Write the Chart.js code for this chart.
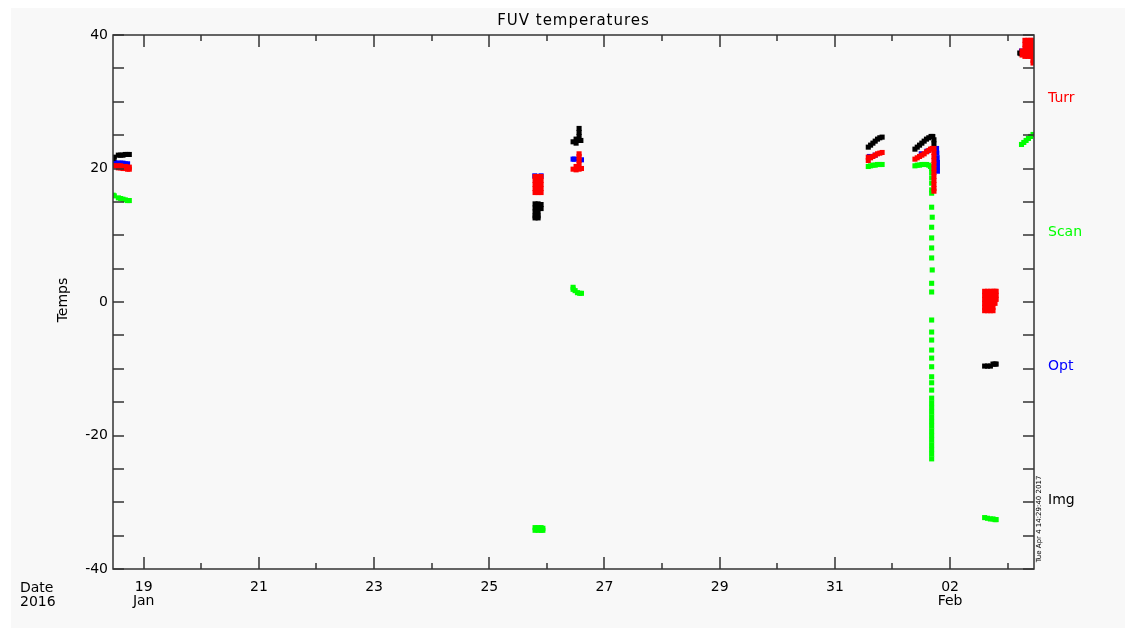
<!DOCTYPE html>
<html>
<head>
<meta charset="utf-8">
<title>FUV temperatures</title>
<script src="https://cdn.jsdelivr.net/npm/chart.js@4/dist/chart.umd.min.js"></script>
<style>
html, body { margin: 0; padding: 0; background: #fff; }
body { width: 1125px; height: 634px; position: relative; overflow: hidden; font-family: "DejaVu Sans", sans-serif; }
#bg { position: absolute; left: 11px; top: 8px; right: 0; bottom: 6px; background: #f8f8f8; }
#wrap { position: absolute; left: 0; top: 0; width: 1125px; height: 634px; }
.lbl { position: absolute; font-size: 14px; line-height: 14px; white-space: nowrap; color: #000; }
</style>
</head>
<body>
<div id="bg"></div>
<div id="wrap"><canvas id="myChart"></canvas></div>
<div class="lbl" style="left:113px; width:921px; top:13px; text-align:center; font-size:15px; letter-spacing:1px">FUV temperatures</div>
<div class="lbl" style="left:32px; width:60px; top:293px; text-align:center; transform:rotate(-90deg)">Temps</div>
<div class="lbl" style="left:20px; top:580px">Date<br>2016</div>
<div class="lbl" style="left:1048px; top:90px; color:#ff0000">Turr</div>
<div class="lbl" style="left:1048px; top:224px; color:#00ff00">Scan</div>
<div class="lbl" style="left:1048px; top:358px; color:#0000ff">Opt</div>
<div class="lbl" style="left:1048px; top:492px">Img</div>
<div class="lbl" style="left:989px; top:515px; width:100px; font-size:7px; line-height:8px; text-align:center; transform:rotate(-90deg)">Tue Apr  4 14:29:40 2017</div>
<script>
// x values are days counted from Jan 0 2016 (Feb 2 = 33)
let xMin = 18.467, xMax = 34.457
let dayTicks = [19, 20, 21, 22, 23, 24, 25, 26, 27, 28, 29, 30, 31, 32, 33, 34]
let dayLabels = ['19', '', '21', '', '23', '', '25', '', '27', '', '29', '', '31', '', '02', '']
let monthLabels = ['Jan', '', '', '', '', '', '', '', '', '', '', '', '', '', 'Feb', '']
let tempTicks = [-40, -35, -30, -25, -20, -15, -10, -5, 0, 5, 10, 15, 20, 25, 30, 35, 40]
let tempLabels = [-40, -20, 0, 20, 40]

let turr = [
    [18.47, 20.4], [18.50, 20.4], [18.56, 20.4], [18.56, 20.1], [18.60, 20.4], [18.60, 20.1], [18.64, 20.3], [18.64, 20.0],
    [18.68, 20.3], [18.68, 20.0], [18.72, 20.2], [18.72, 19.9], [18.75, 20.2], [18.75, 19.9],
    [25.795, 18.8], [25.795, 18.2], [25.795, 17.6], [25.795, 17.0], [25.795, 16.4],
    [25.847, 18.8], [25.847, 18.2], [25.847, 17.6], [25.847, 17.0], [25.847, 16.4],
    [25.899, 18.8], [25.899, 18.2], [25.899, 17.6], [25.899, 17.0], [25.899, 16.4],
    [26.455, 19.9], [26.507, 19.8], [26.559, 19.9], [26.60, 20.0], [26.507, 20.3],
    [26.559, 20.6], [26.559, 21.2], [26.559, 21.8], [26.559, 22.2],
    [31.58, 21.2], [31.58, 21.7], [31.62, 21.6], [31.66, 21.8], [31.70, 22.0], [31.74, 22.2], [31.78, 22.3], [31.82, 22.4],
    [32.39, 21.4], [32.43, 21.6], [32.47, 21.8], [32.51, 22.0], [32.55, 22.2], [32.59, 22.5], [32.63, 22.7], [32.66, 22.9], [32.69, 23.0],
    [32.72, 23.0], [32.72, 22.4], [32.72, 21.8], [32.72, 21.2], [32.72, 20.6], [32.72, 20.0],
    [32.72, 19.4], [32.72, 18.8], [32.72, 18.2], [32.72, 17.6], [32.72, 17.0], [32.72, 16.6],
    [33.60, 1.6], [33.60, 1.0], [33.60, 0.4], [33.60, -0.2], [33.60, -0.8], [33.60, -1.3],
    [33.65, 1.6], [33.65, 1.0], [33.65, 0.4], [33.65, -0.2], [33.65, -0.8], [33.65, -1.3],
    [33.70, 1.6], [33.70, 1.0], [33.70, 0.4], [33.70, -0.2], [33.70, -0.8], [33.70, -1.3],
    [33.745, 1.6], [33.745, 1.0], [33.745, 0.4], [33.745, -0.2], [33.745, -0.8], [33.745, -1.3],
    [33.78, 1.6], [33.78, 1.0], [33.78, 0.4], [33.78, -0.2], [33.80, 1.6], [33.80, 1.0], [33.80, 0.4],
    [34.25, 37.6], [34.25, 37.0],
    [34.30, 39.2], [34.30, 38.6], [34.30, 38.0], [34.30, 37.4], [34.30, 36.8],
    [34.35, 39.2], [34.35, 38.6], [34.35, 38.0], [34.35, 37.4], [34.35, 36.8],
    [34.40, 39.2], [34.40, 38.6], [34.40, 38.0], [34.40, 37.4], [34.40, 36.8],
    [34.44, 39.2], [34.44, 38.6], [34.44, 38.0], [34.44, 37.4], [34.44, 36.8], [34.44, 36.2], [34.44, 35.8]
]

let scan = [
    [18.47, 16.0], [18.49, 15.9], [18.56, 15.6], [18.60, 15.5], [18.64, 15.4], [18.68, 15.3], [18.72, 15.2], [18.75, 15.2],
    [25.795, -33.8], [25.795, -34.2], [25.847, -33.8], [25.847, -34.2], [25.899, -33.8], [25.899, -34.2], [25.93, -33.9], [25.93, -34.2],
    [26.455, 2.2], [26.455, 1.9], [26.49, 1.7], [26.53, 1.4], [26.57, 1.3], [26.60, 1.3],
    [31.58, 20.3], [31.62, 20.4], [31.66, 20.5], [31.70, 20.5], [31.74, 20.6], [31.78, 20.6], [31.82, 20.6],
    [32.39, 20.4], [32.43, 20.5], [32.47, 20.5], [32.51, 20.6], [32.55, 20.6], [32.59, 20.6], [32.63, 20.5], [32.66, 20.3],
    [32.68, 20.0], [32.68, 19.4], [32.68, 18.6], [32.68, 17.8], [32.68, 16.8], [32.68, 16.3], [32.68, 14.2], [32.69, 12.7],
    [32.68, 11.2], [32.68, 9.6], [32.68, 8.1], [32.68, 6.6], [32.69, 4.8], [32.68, 2.8], [32.68, 1.5],
    [32.68, -2.7], [32.68, -4.5], [32.68, -5.7], [32.68, -7.2], [32.68, -8.4], [32.68, -9.7], [32.68, -11.2],
    [32.68, -12.1], [32.68, -13.2], [32.68, -14.4], [32.68, -15.1], [32.68, -15.8], [32.68, -16.5], [32.68, -17.2],
    [32.68, -17.9], [32.68, -18.6], [32.68, -19.3], [32.68, -20.0], [32.68, -20.7], [32.68, -21.4], [32.68, -22.1],
    [32.68, -22.8], [32.68, -23.5],
    [33.60, -32.3], [33.65, -32.4], [33.70, -32.5], [33.745, -32.5], [33.78, -32.6], [33.80, -32.6],
    [34.24, 23.6], [34.28, 23.9], [34.32, 24.2], [34.36, 24.5], [34.40, 24.8], [34.44, 25.1]
]

let opt = [
    [18.47, 20.9], [18.50, 20.9], [18.56, 20.8], [18.60, 20.8], [18.64, 20.8], [18.68, 20.7], [18.72, 20.7],
    [25.79, 18.9], [25.899, 18.9],
    [26.455, 21.4], [26.48, 21.4], [26.60, 21.3],
    [31.60, 21.8], [31.70, 22.0],
    [32.50, 22.2], [32.60, 22.6],
    [32.765, 23.0], [32.77, 22.3], [32.775, 21.6], [32.78, 20.9], [32.78, 20.2], [32.78, 19.6],
    [33.65, 0.5], [33.70, 0.5],
    [34.24, 37.6]
]

let img = [
    [18.47, 21.5], [18.49, 21.7], [18.56, 22.0], [18.60, 22.0], [18.64, 22.0], [18.68, 22.1], [18.72, 22.1], [18.75, 22.1],
    [25.795, 14.7], [25.795, 14.1], [25.795, 13.5], [25.795, 12.9], [25.795, 12.6],
    [25.847, 14.7], [25.847, 14.1], [25.847, 13.5], [25.847, 12.9], [25.847, 12.6],
    [25.899, 14.6], [25.899, 14.0],
    [26.455, 24.0], [26.507, 23.8], [26.507, 24.4], [26.559, 24.2], [26.559, 24.8], [26.559, 25.4], [26.559, 26.0], [26.59, 24.2],
    [31.58, 23.2], [31.62, 23.5], [31.66, 23.8], [31.70, 24.1], [31.74, 24.4], [31.78, 24.6], [31.82, 24.7],
    [32.39, 22.9], [32.43, 23.2], [32.47, 23.5], [32.51, 23.8], [32.55, 24.1], [32.59, 24.4], [32.63, 24.6],
    [32.67, 24.8], [32.70, 24.8], [32.72, 24.3], [32.72, 23.7],
    [33.60, -9.6], [33.65, -9.6], [33.70, -9.6], [33.745, -9.3], [33.78, -9.3], [33.80, -9.3],
    [34.21, 37.3], [34.23, 37.2]
]

function toPoints(arr) {
    return arr.map(p => ({ x: p[0], y: p[1] }))
}

function makeSet(name, arr, color, order) {
    return {
        label: name,
        data: toPoints(arr),
        order: order,
        pointStyle: 'rect',
        pointRadius: 3.6,
        pointHoverRadius: 3.6,
        borderWidth: 0,
        backgroundColor: color,
        borderColor: color,
        showLine: false
    }
}

// inward tick marks and the box round the plot
let frameTicks = {
    id: 'frameTicks',
    afterDraw(chart) {
        let ctx = chart.ctx, a = chart.chartArea, x = chart.scales.x, y = chart.scales.y
        ctx.save()
        ctx.strokeStyle = '#333'
        ctx.lineWidth = 1.5
        ctx.strokeRect(a.left, a.top, a.right - a.left, a.bottom - a.top)
        ctx.beginPath()
        dayTicks.forEach((d, i) => {
            let px = Math.round(x.getPixelForValue(d))
            let len = dayLabels[i] ? 12 : 6
            ctx.moveTo(px, a.bottom); ctx.lineTo(px, a.bottom - len)
            ctx.moveTo(px, a.top); ctx.lineTo(px, a.top + len)
        })
        tempTicks.forEach(t => {
            let py = Math.round(y.getPixelForValue(t))
            ctx.moveTo(a.left, py); ctx.lineTo(a.left + 11, py)
            ctx.moveTo(a.right, py); ctx.lineTo(a.right - 11, py)
        })
        ctx.stroke()
        ctx.restore()
    }
}

Chart.defaults.color = '#000'
Chart.defaults.font.family = '"DejaVu Sans", sans-serif'
Chart.defaults.font.size = 14

let ctx = document.querySelector('#myChart').getContext('2d')
let myChart = new Chart(ctx, {
    type: 'scatter',
    data: {
        datasets: [
            makeSet('Turr', turr, '#ff0000', 0),
            makeSet('Scan', scan, '#00ff00', 2),
            makeSet('Opt', opt, '#0000ff', 3),
            makeSet('Img', img, '#000000', 1)
        ]
    },
    options: {
        responsive: true,
        maintainAspectRatio: false,
        animation: false,
        events: [],
        layout: { padding: { left: 0, top: 35, right: 91, bottom: 0 } },
        plugins: {
            legend: { display: false },
            tooltip: { enabled: false },
            title: { display: false }
        },
        scales: {
            x: {
                type: 'linear',
                min: xMin,
                max: xMax,
                afterFit(scale) { scale.height = 65 },
                afterBuildTicks(scale) { scale.ticks = dayTicks.map(v => ({ value: v })) },
                grid: { display: false, drawTicks: false },
                border: { display: false },
                ticks: {
                    padding: 11,
                    maxRotation: 0,
                    autoSkip: false,
                    font: { size: 14, lineHeight: 1 },
                    callback: (v, i) => monthLabels[i] ? [dayLabels[i], monthLabels[i]] : dayLabels[i]
                }
            },
            y: {
                type: 'linear',
                min: -40,
                max: 40,
                afterFit(scale) { scale.width = 113 },
                afterBuildTicks(scale) { scale.ticks = tempTicks.map(v => ({ value: v })) },
                grid: { display: false, drawTicks: false },
                border: { display: false },
                ticks: {
                    padding: 5,
                    autoSkip: false,
                    font: { size: 14 },
                    callback: v => tempLabels.includes(v) ? String(v) : ''
                }
            }
        }
    },
    plugins: [frameTicks]
})
</script>
</body>
</html>
